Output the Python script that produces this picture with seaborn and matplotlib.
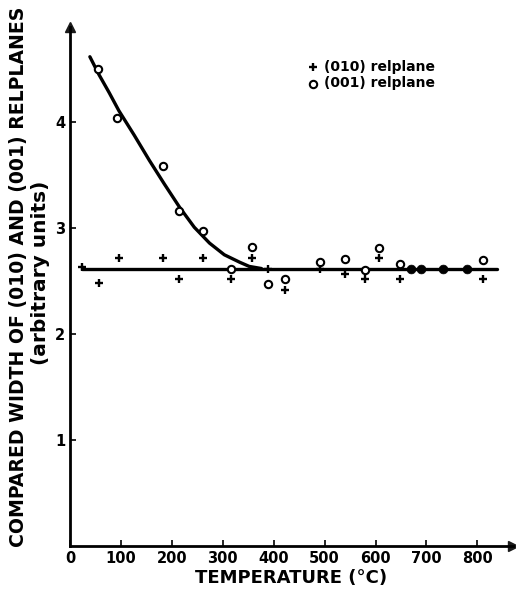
import matplotlib
matplotlib.use("Agg")
import matplotlib.pyplot as plt
import seaborn as sns
import pandas as pd

# (010) relplane, crosses
temp_010 = [24, 56, 96, 183, 215, 262, 316, 357, 388, 423, 490, 541, 579, 607, 648, 812]
width_010 = [2.63, 2.48, 2.72, 2.72, 2.52, 2.72, 2.52, 2.72, 2.62, 2.42, 2.62, 2.57, 2.52, 2.72, 2.52, 2.52]

# (001) relplane, open circles
temp_001 = [54, 93, 183, 215, 262, 316, 357, 388, 423, 490, 541, 579, 607, 648, 812]
width_001 = [4.50, 4.04, 3.59, 3.16, 2.97, 2.62, 2.82, 2.47, 2.52, 2.68, 2.71, 2.61, 2.81, 2.66, 2.70]

# both relplanes coinciding (filled dots)
temp_both = [670, 690, 733, 779]
width_both = [2.62, 2.62, 2.62, 2.62]

# hand-drawn curve for (001)
curve_temp = [39, 57, 77, 96, 126, 156, 185, 215, 244, 274, 303, 333, 352, 376]
curve_width = [4.62, 4.45, 4.28, 4.11, 3.88, 3.64, 3.42, 3.20, 3.01, 2.86, 2.75, 2.68, 2.64, 2.62]

# mean level line
level_temp = [24, 838]
level_width = [2.62, 2.62]

x_ticks = [0, 100, 200, 300, 400, 500, 600, 700, 800]
y_ticks = [1, 2, 3, 4]

sns.set_theme(style="white")
plt.rcParams["font.family"] = ["DejaVu Sans"]
plt.rcParams["font.weight"] = "bold"
plt.rcParams["text.color"] = "black"
plt.rcParams["axes.labelcolor"] = "black"
plt.rcParams["xtick.color"] = "black"
plt.rcParams["ytick.color"] = "black"

fig = plt.figure(figsize=(5.16, 5.93), dpi=100)
ax = fig.add_axes([0.1357, 0.0793, 0.8585, 0.875])

df_010 = pd.DataFrame({"T": temp_010, "w": width_010})
df_001 = pd.DataFrame({"T": temp_001, "w": width_001})
df_both = pd.DataFrame({"T": temp_both, "w": width_both})
df_curve = pd.DataFrame({"T": curve_temp, "w": curve_width})
df_level = pd.DataFrame({"T": level_temp, "w": level_width})

sns.lineplot(data=df_level, x="T", y="w", color="black", lw=2.4, ax=ax, zorder=2)
sns.lineplot(data=df_curve, x="T", y="w", color="black", lw=2.4, ax=ax, zorder=2)

sns.scatterplot(data=df_010, x="T", y="w", marker="+", s=30, color="black",
                linewidth=1.7, ax=ax, zorder=4, label="(010) relplane")
sns.scatterplot(data=df_001, x="T", y="w", marker="o", s=28, facecolor="white",
                edgecolor="black", linewidth=1.5, ax=ax, zorder=3, label="(001) relplane")
sns.scatterplot(data=df_both, x="T", y="w", marker="o", s=40, color="black",
                edgecolor="black", ax=ax, zorder=3)

ax.set_xlim(0, 870)
ax.set_ylim(0, 4.9)
ax.set_xticks(x_ticks)
ax.set_yticks(y_ticks)
ax.tick_params(axis="both", direction="in", length=4, width=1.2, labelsize=10.5,
               bottom=True, left=True, colors="black")
for lbl in ax.get_xticklabels() + ax.get_yticklabels():
    lbl.set_fontweight("bold")

sns.despine(ax=ax)
for side in ["left", "bottom"]:
    ax.spines[side].set_linewidth(2)
    ax.spines[side].set_color("black")

# arrow heads on the axes
ax.plot(1, 0, ">k", ms=7, transform=ax.transAxes, clip_on=False)
ax.plot(0, 1, "^k", ms=7, transform=ax.transAxes, clip_on=False)

ax.set_xlabel("TEMPERATURE (°C)", fontsize=13, fontweight="bold", labelpad=2)
ax.set_ylabel("")
fig.text(0.035, 0.533, "COMPARED WIDTH OF (010) AND (001) RELPLANES", rotation=90,
         fontsize=13.6, fontweight="bold", ha="center", va="center")
fig.text(0.078, 0.54, "(arbitrary units)", rotation=90,
         fontsize=14.5, fontweight="bold", ha="center", va="center")

ax.legend(loc="upper left", bbox_to_anchor=(0.52, 0.948), frameon=False,
          fontsize=10, handletextpad=0.3, borderaxespad=0, labelspacing=0.2,
          handlelength=1)

fig.savefig("out.png", dpi=100)
